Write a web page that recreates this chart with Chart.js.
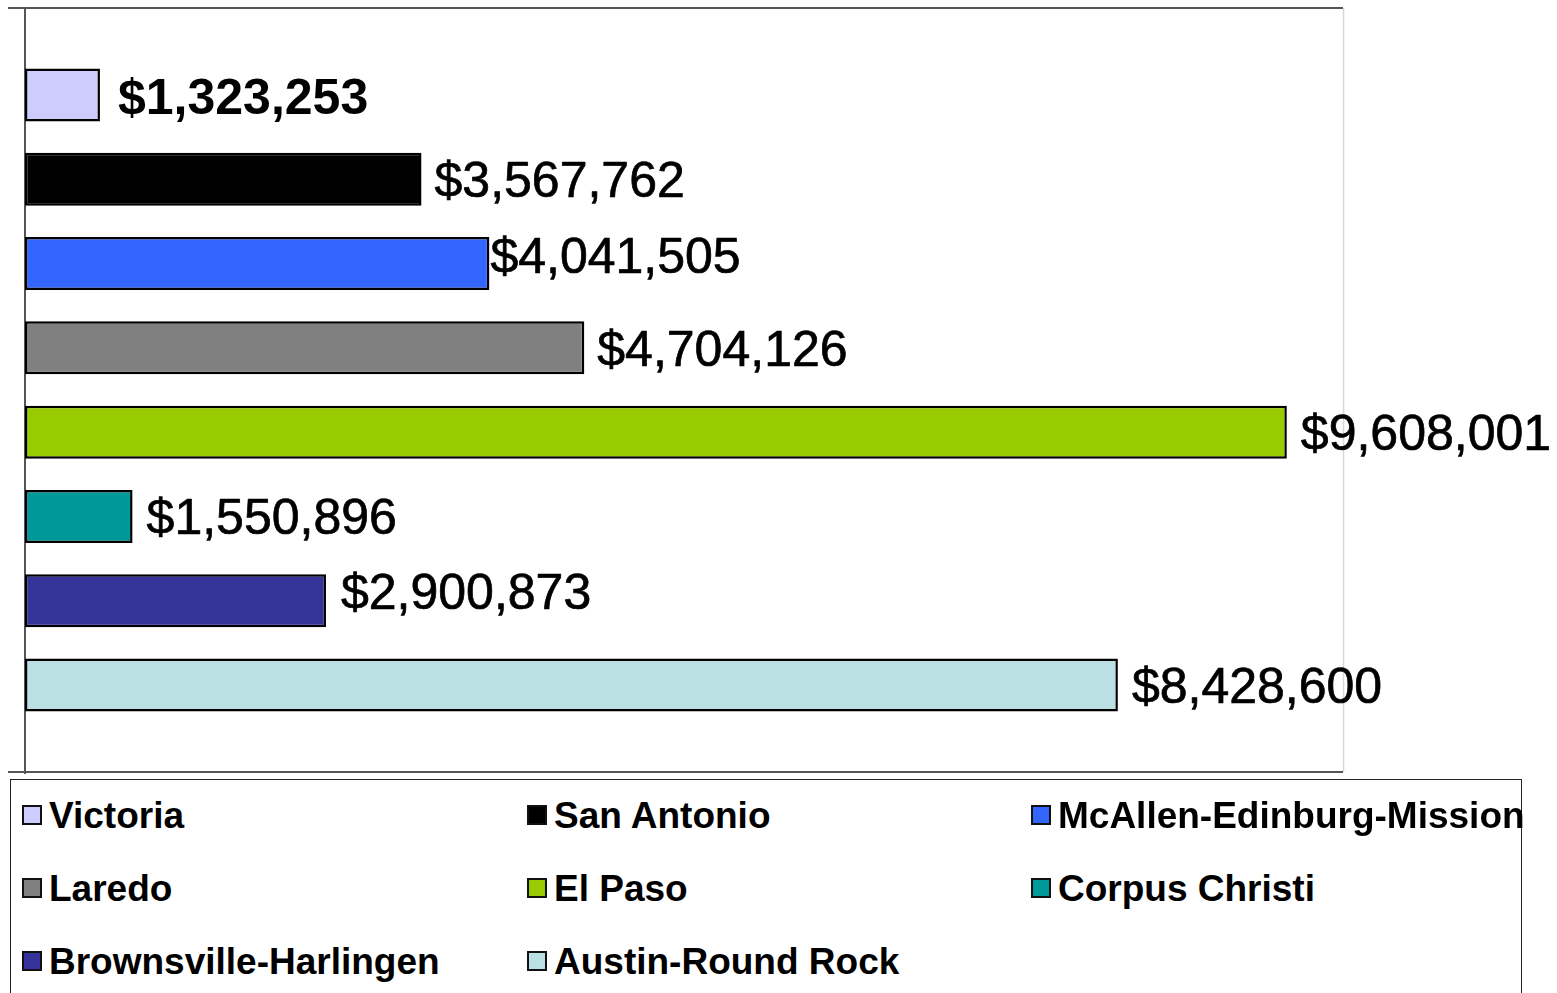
<!DOCTYPE html>
<html>
<head>
<meta charset="utf-8">
<script src="https://cdn.jsdelivr.net/npm/chart.js@4/dist/chart.umd.min.js"></script>
<style>
  html, body { margin: 0; padding: 0; background: #fff; overflow: hidden; }
  #wrap { position: relative; width: 1557px; height: 993px; }
  #c { position: absolute; left: 0; top: 0; }
  #legend {
    position: absolute; left: 10px; top: 779px; width: 1512px; height: 240px;
    border: 1.5px solid #222; box-sizing: border-box; background: #fff;
  }
  .mk { position: absolute; width: 20px; height: 20px; box-sizing: border-box; border: 2px solid #111; }
  .tx { position: absolute; white-space: nowrap; font: bold 37px "Liberation Sans", Arial, sans-serif; line-height: 37px; color: #000; }
</style>
</head>
<body>
<div id="wrap">
  <canvas id="c" width="1557" height="993"></canvas>
  <div id="legend"></div>
</div>
<script>
// ---- data ----
const seriesNames = ["Victoria", "San Antonio", "McAllen-Edinburg-Mission", "Laredo", "El Paso", "Corpus Christi", "Brownsville-Harlingen", "Austin-Round Rock"];
const seriesValues = [1323253, 3567762, 4041505, 4704126, 9608001, 1550896, 2900873, 8428600];
const categories = [""];
const axisMin = 800000;
const axisMax = 10000000;

// ---- styles ----
const colors = ["#CCCCFF", "#000000", "#3366FF", "#808080", "#99CC00", "#009999", "#333399", "#BBE0E3"];
const labelBold = [true, false, false, false, false, false, false, false];
const labelNudge = [[18, 1], [13, 0], [1, -8], [13, 0], [14, 0], [14, 0], [15, -10], [14, 0]];

const fmt = v => "$" + v.toLocaleString("en-US");

const datasets = seriesNames.map((name, i) => ({
  label: name,
  data: [seriesValues[i]],
  backgroundColor: colors[i],
  borderColor: "#000",
  borderWidth: 2.5,
  borderSkipped: false,
  base: axisMin,
  categoryPercentage: 0.8826,
  barPercentage: 0.629
}));

const framePlugin = {
  id: "frame",
  beforeDatasetsDraw(chart) {
    const { ctx, chartArea: a } = chart;
    ctx.save();
    ctx.strokeStyle = "#d8d8d8"; ctx.lineWidth = 1.5;
    ctx.beginPath(); ctx.moveTo(a.right + 0.5, a.top); ctx.lineTo(a.right + 0.5, a.bottom); ctx.stroke();
    ctx.strokeStyle = "#555"; ctx.lineWidth = 2;
    ctx.beginPath();
    ctx.moveTo(a.left - 17, a.top); ctx.lineTo(a.right, a.top);
    ctx.moveTo(a.left - 17, a.bottom); ctx.lineTo(a.right, a.bottom);
    ctx.moveTo(a.left, a.top); ctx.lineTo(a.left, a.bottom + 2);
    ctx.stroke();
    ctx.restore();
  },
  afterDatasetsDraw(chart) {
    const { ctx } = chart;
    ctx.save();
    ctx.fillStyle = "#000";
    ctx.strokeStyle = "#000";
    ctx.lineJoin = "round";
    ctx.textAlign = "left";
    ctx.textBaseline = "alphabetic";
    chart.data.datasets.forEach((ds, i) => {
      const meta = chart.getDatasetMeta(i);
      meta.data.forEach((bar, j) => {
        const size = 50;
        ctx.font = (labelBold[i] ? "bold " : "") + size + 'px "Liberation Sans", Arial, sans-serif';
        const [dx, dy] = labelNudge[i];
        const tx = bar.x + dx, ty = bar.y + dy + size * 0.358;
        const s = fmt(ds.data[j]);
        ctx.fillText(s, tx, ty);
        if (!labelBold[i]) { ctx.lineWidth = 0.7; ctx.strokeText(s, tx, ty); }
      });
    });
    ctx.restore();
  }
};

new Chart(document.getElementById("c"), {
  type: "bar",
  data: { labels: categories, datasets },
  options: {
    indexAxis: "y",
    responsive: false,
    animation: false,
    devicePixelRatio: 1,
    layout: { padding: { left: 25, top: 8, right: 214, bottom: 221 } },
    scales: {
      x: { display: false, min: axisMin, max: axisMax },
      y: { display: false }
    },
    plugins: { legend: { display: false }, tooltip: { enabled: false } }
  },
  plugins: [framePlugin]
});

// ---- HTML legend (3 columns) ----
const legend = document.getElementById("legend");
const colX = [11, 516, 1020];
const rowCY = [34.5, 107.5, 180.5];
seriesNames.forEach((name, i) => {
  const col = i % 3, row = Math.floor(i / 3);
  const mk = document.createElement("div");
  mk.className = "mk";
  mk.style.left = colX[col] + "px";
  mk.style.top = (rowCY[row] - 10) + "px";
  mk.style.background = colors[i];
  const tx = document.createElement("div");
  tx.className = "tx";
  tx.textContent = name;
  tx.style.left = (colX[col] + 27) + "px";
  tx.style.top = (rowCY[row] - 18) + "px";
  legend.appendChild(mk);
  legend.appendChild(tx);
});
</script>
</body>
</html>
